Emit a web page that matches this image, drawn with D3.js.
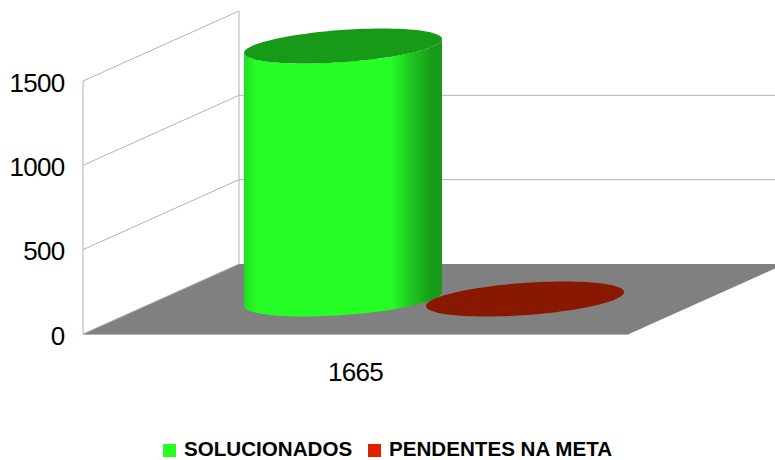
<!DOCTYPE html>
<html><head><meta charset="utf-8">
<script src="https://cdn.jsdelivr.net/npm/d3@7"></script>
<style>html,body{margin:0;padding:0;background:#fff}svg{display:block}text{font-family:"Liberation Sans",Arial,sans-serif;fill:#000}</style>
</head><body><div id="c"></div>
<script>
const categories = ["1665"];
const seriesNames = ["SOLUCIONADOS", "PENDENTES NA META"];
const seriesValues = [1500, 0];
const yTicks = [0, 500, 1000, 1500];
const topColors = ["#179a17", "#881800"];
const legendColors = ["#26ff26", "#e02000"];

const W = 775, H = 460;
const svg = d3.select("#c").append("svg").attr("width", W).attr("height", H);
const depth = {dx: 156, dy: -70};
const y = d3.scaleLinear().domain([0, 1500]).range([334, 81]);
const frontLeft = 83, frontRight = 629;
const x = d3.scaleBand().domain(seriesNames)
  .range([frontLeft + depth.dx / 2, frontRight + depth.dx / 2])
  .paddingInner(0).paddingOuter(0.5);
const gridC = "#b2b2b2";

// floor
const floor = [[frontLeft, y(0)], [frontLeft + depth.dx, y(0) + depth.dy],
  [frontRight + depth.dx, y(0) + depth.dy], [frontRight, y(0)]];
svg.append("path").attr("d", d3.line()(floor) + "Z").attr("fill", "#808080");

// walls
const g = svg.append("g").attr("fill", "none").attr("stroke", gridC).attr("stroke-width", 1);
yTicks.forEach(t => {
  g.append("line").attr("x1", frontLeft).attr("y1", y(t))
    .attr("x2", frontLeft + depth.dx).attr("y2", y(t) + depth.dy);
  if (t > 0 && t < 1500) g.append("line").attr("x1", frontLeft + depth.dx).attr("y1", y(t) + depth.dy)
    .attr("x2", W).attr("y2", y(t) + depth.dy);
});
g.append("line").attr("x1", frontLeft).attr("x2", frontLeft).attr("y1", y(0)).attr("y2", y(1500));
g.append("line").attr("x1", frontLeft + depth.dx).attr("x2", frontLeft + depth.dx)
  .attr("y1", y(0) + depth.dy).attr("y2", y(1500) + depth.dy);
g.append("line").attr("x1", frontLeft).attr("x2", frontRight).attr("y1", y(0) + .5).attr("y2", y(0) + .5);

// cylinders
const defs = svg.append("defs");
const grad = defs.append("linearGradient").attr("id", "cyl").attr("x1", 0).attr("x2", 1).attr("y1", 0).attr("y2", 0);
[[0, "#20e020"], [0.07, "#26ff26"], [0.74, "#26ff26"], [0.84, "#20c820"], [0.95, "#179a17"], [1, "#179a17"]]
  .forEach(s => grad.append("stop").attr("offset", s[0]).attr("stop-color", s[1]));

const v = {x: depth.dx / 4, y: depth.dy / 4};
seriesNames.forEach((name, i) => {
  const ux = x.bandwidth() / 2;
  const cx = x(name) + ux;
  const base = y(0) + depth.dy / 2;
  const h = y(0) - y(seriesValues[i]);
  const pt = (t, cy) => [cx + ux * Math.cos(t) + v.x * Math.sin(t), cy + v.y * Math.sin(t)];
  const tR = Math.atan2(v.x, ux);
  const ts = d3.range(0, 97).map(k => k / 96 * 2 * Math.PI);
  const line = d3.line();
  if (h > 0) {
    const lower = d3.range(0, 49).map(k => tR - k / 48 * Math.PI);
    const bottom = lower.map(t => pt(t, base));
    const top = lower.slice().reverse().map(t => pt(t, base - h));
    svg.append("path").attr("d", line(bottom.concat(top)) + "Z").attr("fill", "url(#cyl)");
  }
  svg.append("path").attr("d", line(ts.map(t => pt(t, base - h))) + "Z").attr("fill", topColors[i]);
});

// y axis labels
const yAxis = svg.append("g").attr("transform", "translate(64.5,2)")
  .call(d3.axisLeft(y).tickValues(yTicks).tickSize(0).tickPadding(0).tickFormat(d3.format("d")));
yAxis.select(".domain").remove();
yAxis.selectAll("text").attr("font-size", 26).attr("letter-spacing", -0.7)
  .style("font-family", '"Liberation Sans",Arial,sans-serif');

// category label
const xCat = d3.scaleBand().domain(categories).range([frontLeft, frontRight]);
svg.selectAll(".cat").data(categories).join("text").attr("class", "cat")
  .attr("x", d => xCat(d) + xCat.bandwidth() / 2 - 0.5).attr("y", 380.5)
  .attr("text-anchor", "middle").attr("font-size", 26).attr("letter-spacing", -0.7).text(d => d);

// legend
const legendX = [163, 368], legendTextX = [184, 389];
seriesNames.forEach((name, i) => {
  svg.append("rect").attr("x", legendX[i]).attr("y", 444).attr("width", 13).attr("height", 13).attr("fill", legendColors[i]);
  svg.append("text").attr("x", legendTextX[i]).attr("y", 455.6).attr("font-size", 20.6)
    .attr("font-weight", "bold").text(name);
});
</script></body></html>
